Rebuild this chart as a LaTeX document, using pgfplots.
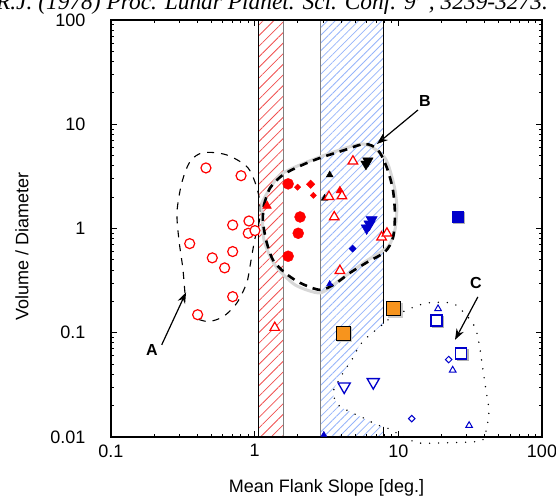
\documentclass[border=0pt]{standalone}
\usepackage{fontspec}
\setmainfont{Liberation Sans}
\newfontfamily\titlefont{Liberation Serif}
\usepackage{pgfplots}
\pgfplotsset{compat=1.18}
\usetikzlibrary{patterns.meta,arrows.meta}

\definecolor{dblue}{RGB}{0,0,204}
\definecolor{hatchblue}{RGB}{150,180,250}
\definecolor{hatchred}{RGB}{240,80,80}
\definecolor{orng}{RGB}{247,148,29}
\definecolor{lgray}{RGB}{215,215,215}

\begin{document}
\begin{tikzpicture}[x=1pt,y=1pt]
\useasboundingbox (0pt,0pt) rectangle (556pt,496pt);
% citation line, cut at the top of the page as in the scan
\node[anchor=base,inner sep=0pt,font=\titlefont\itshape\fontsize{23.4}{26}\selectfont]
  at (272pt,486.5pt) {R.J. (1978) Proc. Lunar Planet. Sci. Conf. 9\textsuperscript{th}, 3239-3273.};
\begin{axis}[
  at={(111pt,59pt)}, anchor=south west,
  width=431pt, height=417pt, scale only axis,
  xmode=log, ymode=log,
  xmin=0.1, xmax=100, ymin=0.01, ymax=100,
  xtick={0.1,1,10,100}, xticklabels={0.1,1,10,100},
  ytick={0.01,0.1,1,10,100}, yticklabels={0.01,0.1,1,10,100},
  tick label style={font=\fontsize{18}{20}\selectfont},
  xticklabel style={yshift=-4pt},
  yticklabel style={xshift=-22pt},
  major tick length=6pt, minor tick length=3.5pt,
  every tick/.style={black,line width=0.9pt},
  axis line style={line width=1.3pt},
  xlabel={Mean Flank Slope [deg.]},
  ylabel={Volume / Diameter},
  every axis x label/.style={at={(axis description cs:0.5,0)},anchor=base,yshift=-55pt,
    font=\fontsize{18}{20}\selectfont},
  every axis y label/.style={at={(axis description cs:-0.2065,0.456)},rotate=90,anchor=center,
    font=\fontsize{18}{20}\selectfont},
  axis on top, clip=false,
]
% hatched slope bands
\addplot[draw=none,pattern={Lines[angle=45,distance=7.5pt,line width=0.8pt]},pattern color=hatchred]
  coordinates {(1.06,0.01) (1.58,0.01) (1.58,100) (1.06,100)};
\addplot[draw=none,pattern={Lines[angle=45,distance=5.5pt,line width=0.8pt]},pattern color=hatchblue]
  coordinates {(2.85,0.01) (7.85,0.01) (7.85,100) (2.85,100)};
\addplot[black,line width=0.9pt] coordinates {(1.06,0.01) (1.06,100)};
\addplot[gray,line width=0.9pt] coordinates {(1.58,0.01) (1.58,100)};
\addplot[gray,line width=0.9pt] coordinates {(2.85,0.01) (2.85,100)};
\addplot[black,line width=0.9pt] coordinates {(7.85,0.01) (7.85,100)};

% region C (white inside, dotted edge)
\addplot[fill=white,draw=none,smooth,tension=0.5] coordinates {
  (8.47,0.133) (11.1,0.162) (14.1,0.185) (17.1,0.195) (24.0,0.191) (29.1,0.152)
  (34.1,0.114) (36.4,0.080) (38.2,0.0514) (40.7,0.0284) (42.7,0.0182) (41.4,0.0125)
  (38.8,0.0094) (34.1,0.0090) (21.1,0.0088) (13.7,0.0088) (10.3,0.0105) (8.33,0.01225)
  (7.10,0.0131) (5.67,0.0153) (4.60,0.0175) (3.80,0.0204) (3.51,0.0265) (3.80,0.0338)
  (4.25,0.0441) (4.75,0.0550) (5.41,0.0766) (6.34,0.0955) (7.45,0.114) (8.47,0.133)};
\addplot[black,line width=1.6pt,line cap=round,dash pattern=on 0pt off 9pt,smooth,tension=0.5] coordinates {
  (8.47,0.133) (11.1,0.162) (14.1,0.185) (17.1,0.195) (24.0,0.191) (29.1,0.152)
  (34.1,0.114) (36.4,0.080) (38.2,0.0514) (40.7,0.0284) (42.7,0.0182) (41.4,0.0125)
  (38.8,0.0094) (34.1,0.0090) (21.1,0.0088) (13.7,0.0088) (10.3,0.0105) (8.33,0.01225)
  (7.10,0.0131) (5.67,0.0153) (4.60,0.0175) (3.80,0.0204) (3.51,0.0265) (3.80,0.0338)
  (4.25,0.0441) (4.75,0.0550) (5.41,0.0766) (6.34,0.0955) (7.45,0.114) (8.47,0.133)};

% region A (thin dashed, open at the arrow)
\addplot[black,line width=1.1pt,dash pattern=on 7pt off 7pt,smooth,tension=0.5] coordinates {
  (0.327,0.241) (0.316,0.419) (0.297,0.778) (0.288,1.44) (0.311,2.74) (0.355,4.38)
  (0.437,5.34) (0.638,5.08) (0.902,3.79) (1.06,2.18) (1.09,1.30) (1.00,0.778)
  (0.927,0.431) (0.879,0.299) (0.750,0.192) (0.605,0.143) (0.476,0.128) (0.385,0.138)};

% region B (grey outline and heavy dashed outline)
\addplot[lgray,line width=3pt,smooth,tension=0.4] coordinates {
  (1.12,1.76) (1.50,3.26) (2.85,4.86) (5.67,6.47) (8.07,4.75) (9.32,2.62) (9.77,1.61)
  (9.47,0.97) (8.47,0.667) (5.86,0.479) (3.92,0.321) (2.85,0.241) (1.91,0.288)
  (1.38,0.448) (1.16,0.778) (1.12,1.76)};
\addplot[black,line width=2.6pt,dash pattern=on 8pt off 6pt,smooth,tension=0.5] coordinates {
  (1.16,1.68) (1.28,2.45) (1.57,3.26) (2.07,3.98) (2.85,4.75) (4.25,5.67) (5.86,6.47)
  (7.21,5.67) (8.33,3.81) (9.17,2.34) (9.47,1.35) (9.17,0.813) (8.07,0.597) (6.14,0.479)
  (4.60,0.375) (3.62,0.294) (2.85,0.258) (2.07,0.301) (1.63,0.375) (1.34,0.50)
  (1.20,0.778) (1.14,1.21) (1.16,1.68)};

% ---- data points ----
% open red circles
\addplot[only marks,mark=*,mark size=5pt,red,mark options={fill=white,line width=1.2pt}] coordinates {
  (0.458,3.81) (0.804,3.21) (0.703,1.08) (0.912,1.18) (0.902,0.90) (1.005,0.955)
  (0.353,0.716) (0.703,0.601) (0.507,0.523) (0.618,0.419) (0.703,0.222) (0.401,0.149)};
% filled red circles
\addplot[only marks,mark=*,mark size=5.5pt,red] coordinates {
  (1.71,2.68) (2.07,1.29) (2.01,0.90) (1.71,0.542)};
% filled red diamonds
\addplot[only marks,mark=square*,mark size=2.2pt,red,mark options={rotate=45}] coordinates {
  (1.99,2.49) (2.56,2.08)};
\addplot[only marks,mark=square*,mark size=3pt,red,mark options={rotate=45}] coordinates {
  (2.45,2.66)};
% filled red triangles
\addplot[only marks,mark=triangle*,mark size=5pt,red] coordinates {(1.22,1.65)};
\addplot[only marks,mark=triangle*,mark size=4.5pt,red] coordinates {(3.92,2.31)};
% filled black triangles
\addplot[only marks,mark=triangle*,mark size=4pt,black] coordinates {(3.33,3.26) (3.07,1.95)};
% open red triangles
\addplot[only marks,mark=triangle*,mark size=5.5pt,red,mark options={fill=white,line width=1.2pt}] coordinates {
  (4.83,4.42) (3.29,2.02) (4.05,2.05) (3.58,1.29) (7.65,0.826) (8.33,0.90) (3.92,0.394) (1.38,0.112)};
% filled black inverted triangles
\addplot[only marks,mark=triangle*,mark size=6pt,black,mark options={rotate=180}] coordinates {
  (6.14,4.45) (5.95,4.16)};
% filled blue inverted triangles
\addplot[only marks,mark=triangle*,mark size=6.5pt,dblue,mark options={rotate=180}] coordinates {
  (6.52,1.21) (6.30,1.10) (6.02,1.01)};
% filled blue diamond and small triangles
\addplot[only marks,mark=square*,mark size=2.5pt,dblue,mark options={rotate=45}] coordinates {(4.81,0.641)};
\addplot[only marks,mark=triangle*,mark size=3.5pt,dblue] coordinates {(3.33,0.294) (3.03,0.0105)};
% filled blue square
\addplot[only marks,mark=square*,mark size=5.5pt,gray!60,mark options={xshift=1pt,yshift=-1pt}] coordinates {(25.9,1.31)};
\addplot[only marks,mark=square*,mark size=5.5pt,dblue,mark options={rounded corners=1.5pt}] coordinates {(25.9,1.31)};
% orange squares
\addplot[only marks,mark=square*,mark size=7pt,gray!40,mark options={xshift=1pt,yshift=-1pt}] coordinates {(9.32,0.170) (4.12,0.099)};
\addplot[only marks,mark=square*,mark size=7pt,black,mark options={fill=orng,line width=1pt}] coordinates {(9.32,0.170) (4.12,0.099)};
% open blue squares
\addplot[only marks,mark=square*,mark size=5.5pt,gray!60,mark options={xshift=1.2pt,yshift=-1.2pt}] coordinates {(18.5,0.131) (27.4,0.0632)};
\addplot[only marks,mark=square*,mark size=5.5pt,dblue,mark options={fill=white,line width=1.5pt}] coordinates {(18.5,0.131) (27.4,0.0632)};
% open blue small triangles
\addplot[only marks,mark=triangle*,mark size=3.8pt,dblue,mark options={fill=white,line width=1pt}] coordinates {
  (18.9,0.170) (23.9,0.0438) (31.1,0.0129)};
% open blue diamonds
\addplot[only marks,mark=square*,mark size=2.3pt,dblue,mark options={rotate=45,fill=white,line width=1pt}] coordinates {
  (22.4,0.0553) (12.4,0.0150)};
% open blue inverted triangles
\addplot[only marks,mark=triangle*,mark size=7pt,dblue,mark options={rotate=180,fill=white,line width=1.3pt}] coordinates {
  (4.20,0.0305) (6.69,0.0336)};

% labels and arrows
\draw[line width=1.2pt,-{Stealth[length=11pt,width=8pt]}] (axis cs:0.2254,0.0766) -- (axis cs:0.333,0.244);
\node[font=\bfseries\fontsize{16}{18}\selectfont] at (axis cs:0.193,0.0686) {A};
\draw[line width=1.2pt,-{Stealth[length=11pt,width=8pt]}] (axis cs:13.7,13.7) -- (axis cs:7.10,6.47);
\node[font=\bfseries\fontsize{16}{18}\selectfont] at (axis cs:15.3,16.7) {B};
\draw[line width=1.2pt,-{Stealth[length=11pt,width=8pt]}] (axis cs:35.8,0.221) -- (axis cs:24.8,0.0855);
\node[font=\bfseries\fontsize{16}{18}\selectfont] at (axis cs:34.7,0.301) {C};
\end{axis}
\end{tikzpicture}
\end{document}
